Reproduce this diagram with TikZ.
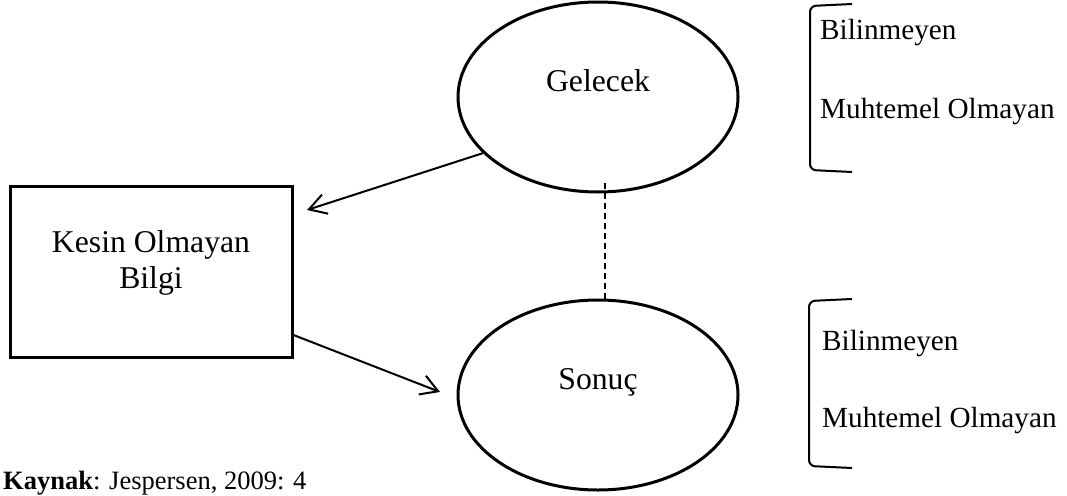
\documentclass[tikz,border=0pt]{standalone}
\usepackage{fontspec}
\setmainfont{Liberation Serif}
\usetikzlibrary{arrows.meta,shapes.geometric}

\begin{document}
\begin{tikzpicture}[x=1pt,y=-1pt,
    oval/.style={ellipse,draw,line width=3pt,minimum width=280pt,minimum height=190pt,inner sep=0pt},
    box/.style={rectangle,draw,line width=3pt,minimum width=282pt,minimum height=171pt},
    txt/.style={font=\fontsize{31.7}{36}\selectfont,align=center,inner sep=0pt},
    arr/.style={line width=2pt,-{Straight Barb[length=17pt,width=20pt,line width=2pt]}},
    brace/.style={line width=2pt,rounded corners=6pt},
    lbl/.style={anchor=base west,inner sep=0pt,font=\fontsize{29.2}{35}\selectfont}]
  \useasboundingbox (0,0) rectangle (1067,495);

  \node[oval] (gelecek) at (598,97) {};
  \node[oval] (sonuc) at (598,395) {};
  \node[box] (kesin) at (151,271.5) {};
  \node[txt,anchor=base] (geltext) at (598,91) {Gelecek};
  \node[txt,anchor=base] (sontext) at (598,389) {Sonuç};
  \node[txt] (kestext) at (151,263) {Kesin Olmayan\\Bilgi};

  % arrows and the dashed link
  \coordinate (a1) at (307,210);
  \coordinate (a2s) at (kesin.east |- 0,335);
  \coordinate (a2) at (440,392);
  \draw[arr] (gelecek.206) -- (a1);
  \draw[arr] (a2s) -- (a2);
  \coordinate (d1) at (605,183);
  \coordinate (d2) at (605,300);
  \draw[line width=1.4pt,dash pattern=on 6pt off 4pt] (d1) -- (d2);

  % brackets on the right
  \draw[brace] (852,4) -- (810,6) -- (810,170) -- (852,172);
  \node[lbl] (b1) at (820,40) {Bilinmeyen};
  \node[lbl] (m1) at (820,118) {Muhtemel Olmayan};
  \draw[brace] (852,299) -- (809,301) -- (809,466) -- (852,468);
  \node[lbl] (b2) at (822,350) {Bilinmeyen};
  \node[lbl] (m2) at (822,427) {Muhtemel Olmayan};

  \node[anchor=base west,inner sep=0pt,font=\fontsize{26.5}{32}\selectfont] (kaynak) at (3,489) {\textbf{Kaynak}: Jespersen, 2009: 4};
\end{tikzpicture}
\end{document}
